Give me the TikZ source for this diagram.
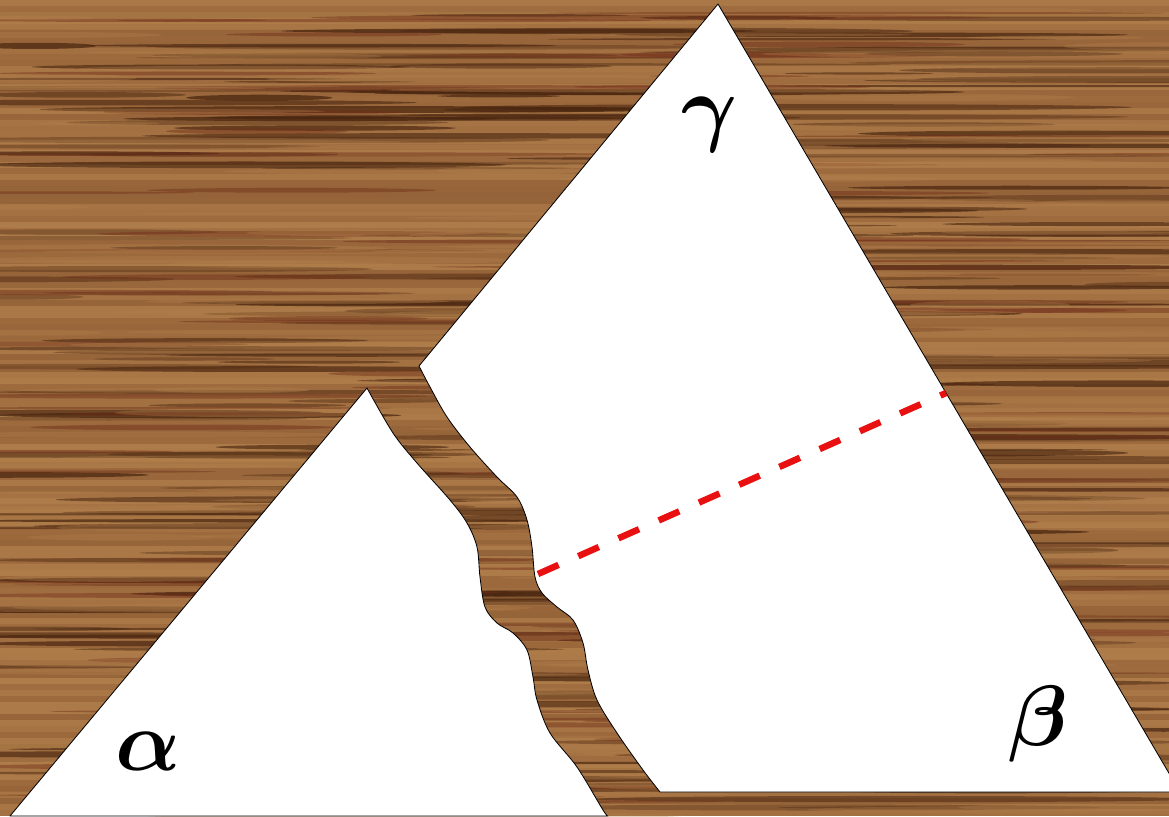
\documentclass[tikz,border=0pt]{standalone}
\usepackage{amsmath}
\definecolor{woodbase}{RGB}{140,90,50}
\definecolor{woodlight}{RGB}{178,128,76}
\definecolor{wooddark}{RGB}{74,38,16}
\definecolor{woodred}{RGB}{112,46,26}
\definecolor{cutred}{RGB}{232,16,16}
\tikzset{
  piece/.style={fill=white,draw=black,line width=0.6pt,line join=round},
  cutline/.style={draw=cutred,line width=4.6pt,dash pattern=on 16pt off 15.3pt},
  anglelabel/.style={font=\Huge,scale=2.45,inner sep=0pt,anchor=base},
}

\begin{document}
\begin{tikzpicture}[x=0.025cm,y=-0.025cm,line cap=butt]
\useasboundingbox (0,0) rectangle (1169,816);
\clip (0,0) rectangle (1169,816);
% wood background
\fill[woodbase] (0,0) rectangle (1169,816);
\pgfmathsetseed{17}
\foreach \b in {0,...,135}{
  \pgfmathtruncatemacro{\mix}{25+65*rnd}
  \fill[woodlight!\mix!woodbase] (0,6*\b) rectangle (1169,6*\b+6);
}
\foreach \k in {1,...,240}{
  \pgfmathsetmacro{\sx}{1169*rnd}
  \pgfmathsetmacro{\sy}{816*rnd}
  \pgfmathsetmacro{\sl}{60+280*rnd}
  \pgfmathsetmacro{\sh}{1+2.4*rnd}
  \pgfmathsetmacro{\so}{0.3+0.45*rnd}
  \fill[wooddark,opacity=\so] (\sx,\sy) ellipse [x radius=\sl, y radius=\sh];
}
\foreach \k in {1,...,90}{
  \pgfmathsetmacro{\sx}{1169*rnd}
  \pgfmathsetmacro{\sy}{816*rnd}
  \pgfmathsetmacro{\sl}{80+260*rnd}
  \pgfmathsetmacro{\sh}{1+2*rnd}
  \fill[woodred,opacity=0.45] (\sx,\sy) ellipse [x radius=\sl, y radius=\sh];
}
\foreach \k in {1,...,160}{
  \pgfmathsetmacro{\sx}{1169*rnd}
  \pgfmathsetmacro{\sy}{816*rnd}
  \pgfmathsetmacro{\sl}{60+260*rnd}
  \pgfmathsetmacro{\sh}{1.5+3*rnd}
  \fill[woodlight,opacity=0.35] (\sx,\sy) ellipse [x radius=\sl, y radius=\sh];
}
% left piece (alpha)
\draw[piece] (10,816) -- (367,388)
  -- plot[smooth,tension=0.55] coordinates {(367,388) (393,433) (417,463) (450,500) (467,523) (477,547) (480,577) (485,607) (497,623) (513,633) (527,650) (533,677) (537,700) (550,733) (577,767) (603,810) (608,816)}
  -- cycle;
% right piece (beta, gamma)
\draw[piece] (1180,792) -- (718,4) -- (419,366)
  -- plot[smooth,tension=0.55] coordinates {(419,366) (430,387) (447,417) (470,447) (497,477) (517,497) (527,520) (532,547) (535,577) (542,593) (557,607) (573,620) (583,643) (588,670) (597,700) (617,733) (643,770) (660,792)}
  -- cycle;
% fold line
\coordinate (cutstart) at (538,574);
\coordinate (cutend) at (946,393);
\draw[cutline] (cutstart) -- (cutend);
% labels
\node[anglelabel] (alpha) at (148,770) {$\boldsymbol{\alpha}$};
\node[anglelabel] (beta) at (1038,745) {$\boldsymbol{\beta}$};
\node[anglelabel] (gamma) at (710,135) {$\boldsymbol{\gamma}$};
\end{tikzpicture}
\end{document}
